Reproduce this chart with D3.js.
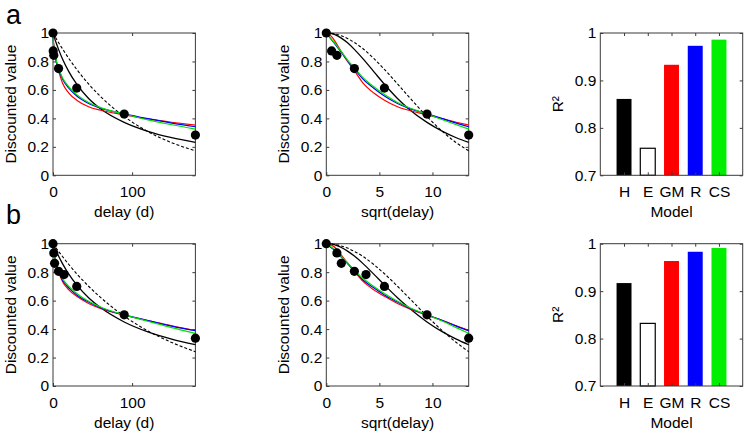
<!DOCTYPE html>
<html>
<head>
<meta charset="utf-8">
<script src="https://cdn.jsdelivr.net/npm/d3@7"></script>
<style>
  html, body { margin: 0; padding: 0; background: #fff; }
  svg { display: block; }
  text { font-family: "Liberation Sans", Arial, Helvetica, sans-serif; fill: #000; }
</style>
</head>
<body>
<svg id="chart" width="754" height="438"></svg>
<script>
// ---------------- DATA ----------------
const curveDelays = [0, 0.25, 1, 2, 4, 7, 12, 20, 30, 45, 60, 90, 120, 150, 180];

// Panel a fitted curves
const aH  = [1, 0.995, 0.982, 0.964, 0.931, 0.885, 0.818, 0.729, 0.640, 0.540, 0.468, 0.372, 0.309, 0.264, 0.231];
const aE  = [1, 0.9975, 0.990, 0.980, 0.961, 0.933, 0.889, 0.821, 0.744, 0.642, 0.554, 0.413, 0.307, 0.229, 0.172];
const aGM = [1, 0.975, 0.920, 0.868, 0.800, 0.735, 0.648, 0.578, 0.528, 0.482, 0.457, 0.425, 0.396, 0.373, 0.353];
const aR  = [1, 0.952, 0.905, 0.865, 0.805, 0.748, 0.676, 0.612, 0.557, 0.505, 0.472, 0.432, 0.398, 0.367, 0.341];
const aCS = [1, 0.955, 0.910, 0.870, 0.810, 0.755, 0.686, 0.622, 0.567, 0.512, 0.476, 0.431, 0.390, 0.355, 0.325];
const aPointDelays = [0, 0.25, 1, 7, 30, 90, 180];
const aPointValues = [1, 0.874, 0.843, 0.750, 0.613, 0.430, 0.283];

// Panel b fitted curves
const bH  = [1, 0.9966, 0.9866, 0.9735, 0.948, 0.913, 0.860, 0.786, 0.710, 0.620, 0.551, 0.450, 0.380, 0.329, 0.290];
const bE  = [1, 0.998, 0.992, 0.984, 0.969, 0.946, 0.910, 0.854, 0.789, 0.701, 0.623, 0.491, 0.387, 0.306, 0.241];
const bGM = [1, 0.990, 0.960, 0.920, 0.865, 0.805, 0.735, 0.676, 0.630, 0.580, 0.545, 0.497, 0.460, 0.423, 0.390];
const bR  = [1, 0.970, 0.940, 0.905, 0.860, 0.810, 0.745, 0.690, 0.640, 0.590, 0.550, 0.500, 0.460, 0.421, 0.388];
const bCS = [1, 0.975, 0.945, 0.910, 0.865, 0.815, 0.755, 0.700, 0.650, 0.595, 0.555, 0.500, 0.455, 0.410, 0.370];
const bPointDelays = [0, 1, 2, 7, 14, 30, 90, 180];
const bPointValues = [1, 0.935, 0.862, 0.806, 0.783, 0.700, 0.500, 0.336];

// R² bars
const models = ["H", "E", "GM", "R", "CS"];
const r2A = [0.861, 0.757, 0.933, 0.973, 0.986];
const r2B = [0.917, 0.832, 0.9635, 0.983, 0.991];

// Ticks
const delayTicks = [0, 100];
const sqrtTicks = [0, 5, 10];
const valueTicks = [0, 0.2, 0.4, 0.6, 0.8, 1];
const r2Ticks = [0.7, 0.8, 0.9, 1];
const panelLabels = ["a", "b"];

// ---------------- STYLE / LAYOUT ----------------
const modelStyles = {
  E:  { color: "#000", width: 1.1, dash: "3,2" },
  H:  { color: "#000", width: 1.3, dash: null },
  GM: { color: "#ff0000", width: 1.2, dash: null },
  R:  { color: "#0000ff", width: 1.2, dash: null },
  CS: { color: "#00e000", width: 1.2, dash: null }
};
const barFill = { H: "#000", E: "#fff", GM: "#ff0000", R: "#0000ff", CS: "#00ee00" };

const rowTops = [33, 243.7];
const plotH = 142.3;
const plotW = 142.4;
const colLefts = [53, 326.3, 600.3];
const tickFont = "15.5px";
const labelFont = "15.5px";
const boxColor = "#3a3a3a";

const svg = d3.select("#chart");

function frame(g, x, y, xTickVals, yTickVals, xFmt, yFmt) {
  const gx = g.append("g").attr("transform", `translate(0,${plotH})`)
    .call(d3.axisBottom(x).tickValues(xTickVals).tickSizeInner(-3).tickSizeOuter(0).tickPadding(11).tickFormat(xFmt));
  const gxt = g.append("g")
    .call(d3.axisTop(x).tickValues(xTickVals).tickSizeInner(-3).tickSizeOuter(0).tickFormat(""));
  const gy = g.append("g")
    .call(d3.axisLeft(y).tickValues(yTickVals).tickSizeInner(-3).tickSizeOuter(0).tickPadding(4).tickFormat(yFmt));
  const gyr = g.append("g").attr("transform", `translate(${plotW},0)`)
    .call(d3.axisRight(y).tickValues(yTickVals).tickSizeInner(-3).tickSizeOuter(0).tickFormat(""));
  [gx, gxt, gy, gyr].forEach(a => {
    a.select(".domain").remove();
    a.selectAll(".tick line").attr("stroke", boxColor);
    a.selectAll("text").style("font-size", tickFont)
      .style("font-family", '"Liberation Sans", Arial, sans-serif').attr("fill", "#000");
  });
  g.append("rect").attr("x", 0).attr("y", 0).attr("width", plotW).attr("height", plotH)
    .attr("fill", "none").attr("stroke", boxColor).attr("stroke-width", 1);
}

function axisLabels(g, xLabel, yLabel) {
  g.append("text").attr("x", plotW / 2).attr("y", plotH + 42)
    .attr("text-anchor", "middle").style("font-size", labelFont).text(xLabel);
  g.append("text").attr("transform", `translate(-37.3,${plotH / 2}) rotate(-90)`)
    .attr("text-anchor", "middle").style("font-size", labelFont).text(yLabel);
}

function curvePanel(row, col, useSqrt, curves, pDelays, pValues) {
  const g = svg.append("g").attr("transform", `translate(${colLefts[col]},${rowTops[row]})`);
  const xMax = useSqrt ? Math.sqrt(d3.max(curveDelays)) : d3.max(curveDelays);
  const x = d3.scaleLinear().domain([0, xMax]).range([0, plotW]);
  const y = d3.scaleLinear().domain([0, 1]).range([plotH, 0]);
  const xv = d => useSqrt ? Math.sqrt(d) : d;

  frame(g, x, y, useSqrt ? sqrtTicks : delayTicks, valueTicks, d => String(d), d => String(d));

  const line = d3.line()
    .x(p => x(xv(p[0])))
    .y(p => y(p[1]))
    .curve(d3.curveMonotoneX);

  ["E", "H", "GM", "R", "CS"].forEach(m => {
    const vals = curves[m];
    const st = modelStyles[m];
    const pts = curveDelays.map((d, i) => [d, vals[i]]);
    g.append("path").attr("d", line(pts))
      .attr("fill", "none").attr("stroke", st.color).attr("stroke-width", st.width)
      .attr("stroke-dasharray", st.dash);
  });

  g.selectAll("circle.pt").data(pDelays.map((d, i) => [d, pValues[i]])).enter()
    .append("circle").attr("class", "pt")
    .attr("cx", p => x(xv(p[0]))).attr("cy", p => y(p[1])).attr("r", 4.6)
    .attr("fill", "#000");

  axisLabels(g, useSqrt ? "sqrt(delay)" : "delay (d)", "Discounted value");
}

function barPanel(row, vals) {
  const g = svg.append("g").attr("transform", `translate(${colLefts[2]},${rowTops[row]})`);
  const x = d3.scaleLinear().domain([0, models.length + 1]).range([0, plotW]);
  const y = d3.scaleLinear().domain([0.7, 1]).range([plotH, 0]);
  const idx = models.map((m, i) => i + 1);
  const bw = x(0.63) - x(0);

  g.selectAll("rect.bar").data(models.map((m, i) => ({ m, v: vals[i], i: i + 1 }))).enter()
    .append("rect").attr("class", "bar")
    .attr("x", d => x(d.i) - bw / 2).attr("width", bw)
    .attr("y", d => y(d.v)).attr("height", d => y(0.7) - y(d.v))
    .attr("fill", d => barFill[d.m])
    .attr("stroke", d => d.m === "E" ? "#000" : "none").attr("stroke-width", 1.2);

  frame(g, x, y, idx, r2Ticks, i => models[i - 1], d => String(d));
  axisLabels(g, "Model", "R²");
}

// ---------------- DRAW ----------------
curvePanel(0, 0, false, { H: aH, E: aE, GM: aGM, R: aR, CS: aCS }, aPointDelays, aPointValues);
curvePanel(0, 1, true,  { H: aH, E: aE, GM: aGM, R: aR, CS: aCS }, aPointDelays, aPointValues);
barPanel(0, r2A);
curvePanel(1, 0, false, { H: bH, E: bE, GM: bGM, R: bR, CS: bCS }, bPointDelays, bPointValues);
curvePanel(1, 1, true,  { H: bH, E: bE, GM: bGM, R: bR, CS: bCS }, bPointDelays, bPointValues);
barPanel(1, r2B);

svg.append("text").attr("x", 6).attr("y", 24).style("font-size", "27px").text(panelLabels[0]);
svg.append("text").attr("x", 6).attr("y", 224).style("font-size", "27px").text(panelLabels[1]);
</script>
</body>
</html>
